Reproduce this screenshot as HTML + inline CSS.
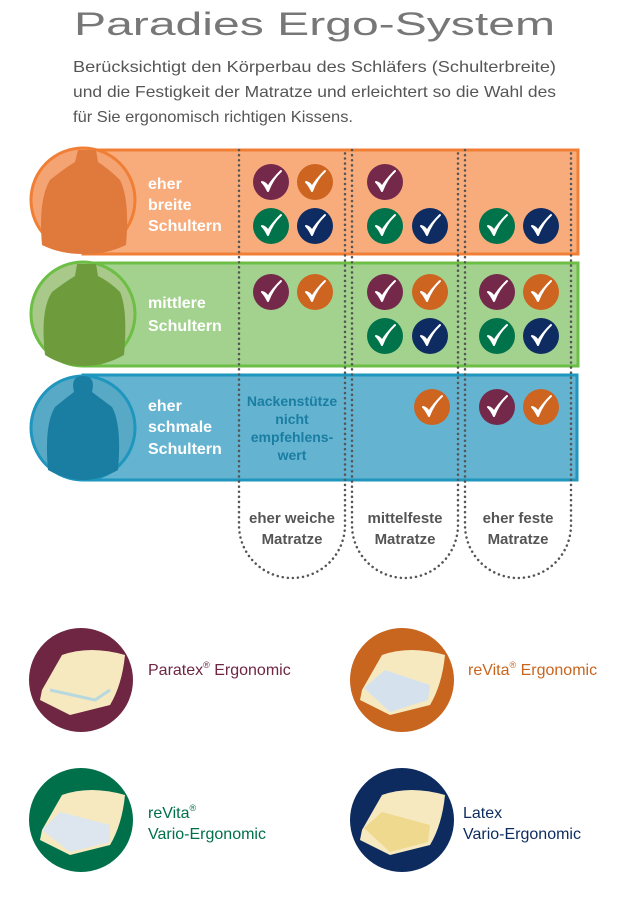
<!DOCTYPE html>
<html><head><meta charset="utf-8"><style>
html,body{margin:0;padding:0;background:#fff}
svg{display:block}
text{font-family:"Liberation Sans",sans-serif}
</style></head><body>
<svg width="630" height="900" viewBox="0 0 630 900" xmlns="http://www.w3.org/2000/svg">
<defs>
<g id="ck"><path d="M-9,0 Q-6,3 -3,9 Q2,-4 10,-11 Q1,-2 -3,5 Q-5,1 -9,0Z" fill="#fff" stroke="#fff" stroke-width="2" stroke-linejoin="round"/></g>
</defs>
<text x="74" y="35" font-size="32" fill="#777" textLength="481" lengthAdjust="spacingAndGlyphs">Paradies Ergo-System</text>
<g font-size="16" fill="#555">
<text x="73" y="72" textLength="483" lengthAdjust="spacingAndGlyphs">Berücksichtigt den Körperbau des Schläfers (Schulterbreite)</text>
<text x="73" y="97" textLength="483" lengthAdjust="spacingAndGlyphs">und die Festigkeit der Matratze und erleichtert so die Wahl des</text>
<text x="73" y="122" textLength="280" lengthAdjust="spacingAndGlyphs">für Sie ergonomisch richtigen Kissens.</text>
</g>

<rect x="83" y="150" width="495" height="104" fill="#f8ac7c" stroke="#f07f35" stroke-width="3"/>
<circle cx="83" cy="200" r="52" fill="#f4a372" stroke="#f07f35" stroke-width="3"/>
<path d="M42,245 Q38,200 50,180 Q65,168 75,162 L78,150 L96,150 L98,162 Q110,170 120,180 Q130,200 126,245 Q105,255 83,254 Q60,254 42,245Z" fill="#e07a3c"/>
<rect x="83" y="263" width="495" height="103" fill="#a2d28e" stroke="#6cbe45" stroke-width="3"/>
<circle cx="83" cy="314" r="52" fill="#a8c98a" stroke="#6cbe45" stroke-width="3"/>
<path d="M45,355 Q40,310 52,292 Q65,282 75,276 L77,264 L96,264 L98,276 Q110,282 120,292 Q128,310 124,355 Q105,366 83,366 Q62,366 45,355Z" fill="#6e9c3c"/>
<rect x="83" y="375" width="494" height="105" fill="#64b3d0" stroke="#1e96bd" stroke-width="3"/>
<circle cx="83" cy="428" r="52" fill="#58a9c6" stroke="#1e96bd" stroke-width="3"/>
<path d="M48,470 Q44,425 55,407 Q66,398 74,392 Q70,376 83,376 Q96,376 92,392 Q100,398 112,407 Q122,425 118,470 Q100,480 83,480 Q66,480 48,470Z" fill="#1a7ea2"/>

<g font-size="16" font-weight="bold" fill="#fff">
<text x="148" y="189">eher</text><text x="148" y="210">breite</text><text x="148" y="231">Schultern</text>
<text x="148" y="308">mittlere</text><text x="148" y="331">Schultern</text>
<text x="148" y="411">eher</text><text x="148" y="432">schmale</text><text x="148" y="454">Schultern</text>
</g>

<g fill="none" stroke="#555" stroke-width="2.5" stroke-dasharray="0.1 5" stroke-linecap="round">
<path d="M239,150 V525 A53,53 0 0 0 345,525 V150"/>
<path d="M352,150 V525 A53,53 0 0 0 458,525 V150"/>
<path d="M465,150 V525 A53,53 0 0 0 571,525 V150"/>
</g>

<g font-size="14" font-weight="bold" fill="#1a7ea2" text-anchor="middle">
<text x="292" y="406">Nackenstütze</text><text x="292" y="424">nicht</text><text x="292" y="442">empfehlens-</text><text x="292" y="460">wert</text>
</g>
<g font-size="15" font-weight="bold" fill="#555" text-anchor="middle">
<text x="292" y="523">eher weiche</text><text x="292" y="544">Matratze</text>
<text x="405" y="523">mittelfeste</text><text x="405" y="544">Matratze</text>
<text x="518" y="523">eher feste</text><text x="518" y="544">Matratze</text>
</g>

<g>
<circle cx="271" cy="182" r="18" fill="#74284a"/><use href="#ck" x="271" y="182"/>
<circle cx="315" cy="182" r="18" fill="#cd6420"/><use href="#ck" x="315" y="182"/>
<circle cx="385" cy="182" r="18" fill="#74284a"/><use href="#ck" x="385" y="182"/>
<circle cx="271" cy="226" r="18" fill="#00734a"/><use href="#ck" x="271" y="226"/>
<circle cx="315" cy="226" r="18" fill="#0e2c62"/><use href="#ck" x="315" y="226"/>
<circle cx="385" cy="226" r="18" fill="#00734a"/><use href="#ck" x="385" y="226"/>
<circle cx="430" cy="226" r="18" fill="#0e2c62"/><use href="#ck" x="430" y="226"/>
<circle cx="497" cy="226" r="18" fill="#00734a"/><use href="#ck" x="497" y="226"/>
<circle cx="541" cy="226" r="18" fill="#0e2c62"/><use href="#ck" x="541" y="226"/>

<circle cx="271" cy="292" r="18" fill="#74284a"/><use href="#ck" x="271" y="292"/>
<circle cx="315" cy="292" r="18" fill="#cd6420"/><use href="#ck" x="315" y="292"/>
<circle cx="385" cy="292" r="18" fill="#74284a"/><use href="#ck" x="385" y="292"/>
<circle cx="430" cy="292" r="18" fill="#cd6420"/><use href="#ck" x="430" y="292"/>
<circle cx="497" cy="292" r="18" fill="#74284a"/><use href="#ck" x="497" y="292"/>
<circle cx="541" cy="292" r="18" fill="#cd6420"/><use href="#ck" x="541" y="292"/>
<circle cx="385" cy="336" r="18" fill="#00734a"/><use href="#ck" x="385" y="336"/>
<circle cx="430" cy="336" r="18" fill="#0e2c62"/><use href="#ck" x="430" y="336"/>
<circle cx="497" cy="336" r="18" fill="#00734a"/><use href="#ck" x="497" y="336"/>
<circle cx="541" cy="336" r="18" fill="#0e2c62"/><use href="#ck" x="541" y="336"/>

<circle cx="432" cy="407" r="18" fill="#cd6420"/><use href="#ck" x="432" y="407"/>
<circle cx="497" cy="407" r="18" fill="#74284a"/><use href="#ck" x="497" y="407"/>
<circle cx="541" cy="407" r="18" fill="#cd6420"/><use href="#ck" x="541" y="407"/>
</g>

<g>
<circle cx="81" cy="680" r="52" fill="#6e2642"/>
<path d="M42,690 L62,655 Q90,645 125,655 Q122,685 110,705 L70,715 L40,700Z" fill="#f6e9c0"/>
<path d="M50,690 L95,700 L110,690" fill="none" stroke="#b8d8e0" stroke-width="3"/>
<circle cx="402" cy="680" r="52" fill="#c8651e"/>
<path d="M362,690 L382,655 Q410,645 445,655 Q442,685 430,705 L390,715 L360,700Z" fill="#f6e9c0"/>
<path d="M364,688 L385,670 L430,685 L428,700 L390,712Z" fill="#d5e2ee"/>
<circle cx="81" cy="820" r="52" fill="#00704a"/>
<path d="M42,830 L62,795 Q90,785 125,795 Q122,825 110,845 L70,855 L40,840Z" fill="#f6e9c0"/>
<path d="M42,830 L60,812 L110,825 L110,842 L70,852Z" fill="#dde6ef"/>
<circle cx="402" cy="820" r="52" fill="#0d2b5e"/>
<path d="M362,830 L382,795 Q410,785 445,795 Q442,825 430,845 L390,855 L360,840Z" fill="#f6e9c0"/>
<path d="M364,828 L382,812 L430,825 L428,842 L390,852Z" fill="#efd98f"/>
</g>
<g font-size="16">
<text x="148" y="675" fill="#6e2642">Paratex<tspan font-size="9" dy="-7">®</tspan><tspan dy="7"> Ergonomic</tspan></text>
<text x="468" y="675" fill="#c8651e">reVita<tspan font-size="9" dy="-7">®</tspan><tspan dy="7"> Ergonomic</tspan></text>
<text x="148" y="818" fill="#00704a">reVita<tspan font-size="9" dy="-7">®</tspan></text>
<text x="148" y="839" fill="#00704a">Vario-Ergonomic</text>
<text x="463" y="818" fill="#0d2b5e">Latex</text>
<text x="463" y="839" fill="#0d2b5e">Vario-Ergonomic</text>
</g>
</svg>
</body></html>
